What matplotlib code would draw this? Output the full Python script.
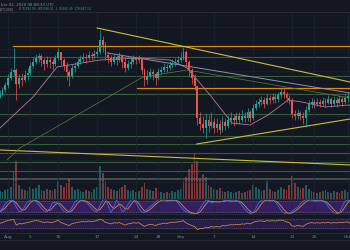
import numpy as np
import pandas as pd
import matplotlib
matplotlib.use("Agg")
import matplotlib.pyplot as plt
from matplotlib.lines import Line2D

# ---- BTC/USD, 12h candles, Jul 30 2020 -> Oct 2 2020 ----
first_open = 10918
closes = [10962, 11075, 11188, 11345, 11480, 11525, 11210, 11345, 11300, 11412,
          11458, 11615, 11705, 11795, 11840, 11750, 11660, 11750, 11705, 11660,
          11795, 11930, 11750, 11615, 11480, 11390, 11570, 11615, 11705, 11772,
          11818, 11795, 11862, 11840, 11885, 11930, 12200, 12088, 11862, 11795,
          11705, 11818, 11750, 11840, 11705, 11570, 11660, 11705, 11795, 11750,
          11795, 11525, 11300, 11390, 11480, 11435, 11345, 11480, 11525, 11592,
          11570, 11638, 11682, 11705, 11750, 11795, 11930, 11705, 11525, 11345,
          11165, 10445, 10310, 10220, 10400, 10265, 10355, 10220, 10310, 10175,
          10355, 10265, 10400, 10445, 10400, 10490, 10400, 10490, 10445, 10580,
          10445, 10670, 10760, 10805, 10850, 10760, 10895, 10850, 10918, 10872,
          10962, 11030, 10985, 10895, 10850, 10535, 10490, 10558, 10490, 10445,
          10625, 10760, 10805, 10760, 10805, 10760, 10828, 10782, 10872, 10760,
          10850, 10782, 10872, 10805, 10895, 10940, 10738]
highs = [11075, 11142, 11255, 11435, 11570, 12020, 11570, 11435, 11458, 11525,
         11570, 11705, 11818, 11885, 11908, 11885, 11795, 11840, 11818, 11772,
         11862, 12020, 11930, 11795, 11705, 11525, 11660, 11705, 11795, 11862,
         11908, 11885, 11952, 11930, 11975, 12042, 12425, 12290, 12155, 11930,
         11862, 11885, 11862, 11930, 11862, 11795, 11750, 11795, 11862, 11840,
         11862, 11795, 11570, 11525, 11570, 11548, 11480, 11570, 11615, 11682,
         11660, 11728, 11772, 11795, 11840, 11930, 12042, 11975, 11750, 11570,
         11435, 11165, 10580, 10490, 10535, 10512, 10580, 10445, 10445, 10400,
         10490, 10445, 10512, 10580, 10535, 10580, 10580, 10625, 10580, 10670,
         10625, 10760, 10850, 10895, 10940, 10918, 10985, 10962, 11008, 10985,
         11030, 11120, 11142, 11030, 10962, 10895, 10625, 10648, 10602, 10580,
         10715, 10850, 10895, 10872, 10895, 10872, 10918, 10895, 10962, 10918,
         10940, 10918, 10962, 10940, 10985, 11030, 10985]
lows = [10895, 10940, 11030, 11120, 11300, 11412, 10850, 11120, 11165, 11255,
        11300, 11390, 11570, 11660, 11705, 11615, 11525, 11592, 11570, 11525,
        11615, 11750, 11638, 11525, 11300, 11165, 11345, 11480, 11570, 11660,
        11705, 11682, 11750, 11750, 11772, 11818, 11885, 11930, 11750, 11682,
        11615, 11660, 11638, 11705, 11570, 11480, 11525, 11570, 11660, 11660,
        11682, 11435, 11165, 11210, 11345, 11300, 11188, 11300, 11435, 11480,
        11480, 11525, 11570, 11615, 11660, 11705, 11750, 11615, 11390, 11210,
        11075, 10288, 10175, 10108, 9995, 10130, 10220, 10108, 10130, 10085,
        10130, 10175, 10220, 10310, 10265, 10310, 10310, 10355, 10355, 10378,
        10355, 10400, 10625, 10692, 10738, 10670, 10738, 10760, 10782, 10782,
        10805, 10895, 10895, 10805, 10760, 10445, 10400, 10422, 10400, 10310,
        10242, 10580, 10670, 10670, 10715, 10692, 10715, 10692, 10760, 10692,
        10715, 10692, 10760, 10715, 10760, 10805, 10625]
volume = [8, 7, 9, 10, 12, 28, 38, 14, 10, 9, 8, 12, 10, 11, 14, 9, 8, 10, 9, 8,
          10, 18, 14, 12, 16, 20, 12, 9, 10, 8, 7, 9, 8, 7, 10, 12, 33, 26, 18, 12,
          10, 9, 8, 10, 12, 14, 9, 8, 9, 7, 8, 12, 16, 10, 9, 8, 11, 8, 7, 6,
          7, 6, 8, 7, 9, 10, 18, 22, 30, 35, 46, 38, 20, 25, 22, 14, 12, 10, 9, 11,
          8, 7, 8, 7, 6, 7, 8, 6, 7, 8, 9, 14, 12, 10, 8, 9, 18, 10, 8, 7,
          9, 12, 10, 9, 14, 23, 16, 12, 10, 11, 14, 10, 8, 7, 6, 7, 8, 9, 7, 6,
          8, 7, 6, 8, 9, 7, 10]
stoch_k = [20, 40, 65, 80, 85, 80, 45, 20, 25, 50, 75, 85, 88, 80, 60, 40, 25, 20, 40, 70,
           75, 65, 45, 25, 15, 20, 45, 75, 88, 85, 80, 75, 60, 40, 25, 20, 55, 85, 90, 55,
           15, 45, 88, 60, 20, 30, 60, 85, 90, 70, 40, 20, 15, 35, 50, 60, 75, 88, 90, 85,
           80, 82, 88, 85, 70, 50, 30, 20, 15, 10, 5, 15, 40, 65, 85, 85, 70, 75, 80, 75,
           80, 85, 85, 75, 80, 85, 75, 55, 35, 20, 10, 15, 40, 70, 85, 88, 85, 80, 85, 75,
           55, 30, 15, 8, 10, 25, 35, 45, 65, 80, 88, 90, 85, 80, 82, 85, 80, 70, 50, 30,
           15, 10, 15, 50, 80, 85, 80]
rsi = [50, 55, 60, 65, 68, 70, 42, 50, 48, 52, 55, 58, 62, 64, 63, 58, 55, 58, 56, 55,
       60, 66, 55, 50, 44, 40, 50, 52, 56, 58, 60, 58, 62, 60, 62, 64, 72, 66, 55, 52,
       48, 54, 52, 55, 48, 42, 48, 50, 54, 52, 54, 44, 36, 42, 46, 44, 40, 46, 48, 52,
       50, 54, 56, 56, 58, 60, 64, 52, 46, 40, 35, 20, 25, 24, 32, 30, 35, 32, 36, 32,
       40, 38, 42, 44, 43, 46, 44, 48, 47, 52, 48, 56, 60, 62, 63, 60, 64, 62, 64, 62,
       65, 67, 64, 58, 54, 38, 36, 40, 38, 36, 46, 52, 54, 52, 54, 52, 55, 53, 56, 52,
       55, 53, 56, 54, 57, 58, 50]

# moving averages drawn on the chart (day since Aug 1, price)
ma_days = [-1.44, 4.49, 8.80, 16.52, 23.70, 29.08, 32.14, 36.27, 40.22, 43.45, 46.68, 50.27, 52.78, 56.91, 61.4]
ma_vals = [10220, 10918, 11592, 11750, 11795, 11750, 11570, 10962, 10332, 10288, 10512, 10850, 10805, 10692, 10738]
ma200_days = [-0.18, 2.15, 24.24, 32.14, 61.4]
ma200_vals = [9500, 9770, 11368, 11525, 10895]

# horizontal levels and trend lines
green_levels = [11818, 11390, 10985, 10535, 10040, 9860, 9658, 9455, 9252]
grey_level = 9072
orange_levels = [(0.9, 12065), (23.2, 11120)]
yellow_lines = [((16.0, 12470), (61.4, 11255)),
                ((33.9, 9860), (61.4, 10422)),
                ((-1.44, 9725), (61.4, 9388))]
grey_trend = ((17.8, 11908), (61.4, 11008))

tick_days = [0, 4, 9, 16, 23, 27, 31, 37, 44, 51, 55, 61]
tick_labels = ["Aug", "5", "10", "17", "24", "28", "Sep", "7", "14", "21", "25", "Oct"]

BG = "#131722"
GRID = "#1e2331"
UP = "#26a69a"
DOWN = "#ef5350"
XMIN, XMAX = -1.44, 61.4

n = len(closes)
t = -1.5 + 0.5 * np.arange(n)
opens = [first_open] + closes[:-1]
up = [c >= o for o, c in zip(opens, closes)]
cols = [UP if u else DOWN for u in up]

def fy(py):
    return 1 - py / 250.0

fig = plt.figure(figsize=(3.5, 2.5), dpi=100, facecolor=BG)

ax_vol = fig.add_axes([0, fy(199), 1, 187 / 250.0])
ax = fig.add_axes([0, fy(199), 1, 187 / 250.0])
ax_st = fig.add_axes([0, fy(214), 1, 15 / 250.0])
ax_rsi = fig.add_axes([0, fy(233), 1, 19 / 250.0])

for a in (ax_vol, ax, ax_st, ax_rsi):
    a.set_xlim(XMIN, XMAX)
    for s in a.spines.values():
        s.set_visible(False)
    a.set_yticks([])
    a.set_xticks(tick_days)
    a.tick_params(length=0, labelbottom=False)
    a.grid(True, axis="x", color=GRID, lw=0.5)
ax_vol.set_facecolor(BG)
ax.set_facecolor("none")
ax_st.set_facecolor(BG)
ax_rsi.set_facecolor(BG)

# volume behind the candles
ax_vol.bar(t, volume, width=0.32, color=cols, alpha=0.5)
ax_vol.set_ylim(0, 187)
ax_vol.grid(False)

# main price panel
ax.set_ylim(8622, 12830)
for p in range(9000, 12800, 500):
    ax.axhline(p, color=GRID, lw=0.4, zorder=0)
for lv in green_levels:
    ax.axhline(lv, color="#3d6b3f", lw=0.8, alpha=0.85, zorder=1)
ax.axhline(grey_level, color="#5b6b5e", lw=1.2, alpha=0.8, zorder=1)
for d0, lv in orange_levels:
    ax.plot([d0, XMAX + 1], [lv, lv], color="#d98a0b", lw=0.9, zorder=2)
for (d0, p0), (d1, p1) in yellow_lines:
    ax.plot([d0, d1], [p0, p1], color="#cbbd3a", lw=0.8, zorder=2)
ax.plot([grey_trend[0][0], grey_trend[1][0]], [grey_trend[0][1], grey_trend[1][1]],
        color="#8d8fa6", lw=0.7, zorder=2)
ax.plot(ma200_days, ma200_vals, color="#5f7d3a", lw=0.5, zorder=2)
ax.plot(ma_days, ma_vals, color="#b57a9a", lw=0.6, zorder=2)

ax.vlines(t, lows, highs, colors=cols, lw=0.5, zorder=3)
bodies = [max(abs(c - o), 12) for o, c in zip(opens, closes)]
bottoms = [min(o, c) for o, c in zip(opens, closes)]
ax.bar(t, bodies, bottom=bottoms, width=0.34, color=cols, zorder=4, linewidth=0)

# stoch RSI panel
stoch_d = pd.Series(stoch_k).rolling(3, min_periods=1).mean()
ax_st.set_ylim(8, 92)
ax_st.axhspan(20, 80, color="#3b2168", alpha=0.9, zorder=0)
for lv in (20, 80):
    ax_st.axhline(lv, color="#6d6f80", lw=0.4, ls=(0, (2, 2)))
ax_st.plot(t, stoch_d, color="#e0892c", lw=0.6)
ax_st.plot(t, stoch_k, color="#3d6cf0", lw=0.6)

# RSI panel
ax_rsi.set_ylim(3, 97)
ax_rsi.axhspan(30, 70, color="#2b1d4d", alpha=0.9, zorder=0)
for lv in (30, 70):
    ax_rsi.axhline(lv, color="#6d6f80", lw=0.4, ls=(0, (2, 2)))
ax_rsi.plot(t, rsi, color="#c08a45", lw=0.6)
ax_rsi.set_xticklabels(tick_labels)
ax_rsi.tick_params(labelbottom=True, pad=1.2, labelsize=3.2, labelcolor="#80858f")

# panel separators
for py in (11.7, 199, 214, 233, 240):
    fig.add_artist(Line2D([0, 1], [fy(py), fy(py)], transform=fig.transFigure, color="#2a2e39", lw=0.6))

# header
fig.text(0.002, fy(4.5), "ber 02, 2020 08:08:33 UTC", fontsize=2.8, color="#8a8f9a", va="center")
hdr = [(0, "[BTCUSD]", "#8a8f9a"), (19, "O", "#8a8f9a"), (21.5, "10,584.90", UP),
       (37.5, "H", "#8a8f9a"), (40, "10,596.01", UP), (56, "L", "#8a8f9a"),
       (58.5, "10,565.49", UP), (74.5, "C", "#8a8f9a"), (77, "10,587.14", UP)]
for x, s, c in hdr:
    fig.text(x / 350.0, fy(9), s, fontsize=2.1, color=c, va="center")

fig.savefig("out.png", dpi=100, facecolor=BG)
